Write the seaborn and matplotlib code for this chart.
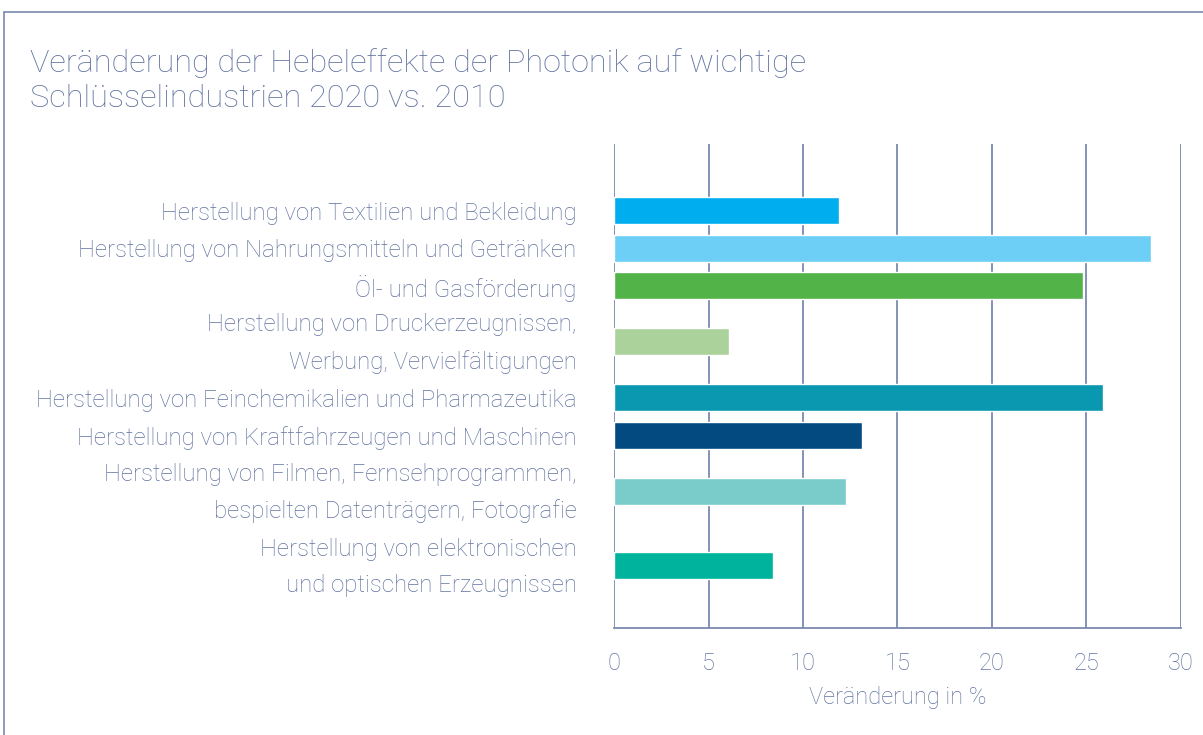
import numpy as np
import pandas as pd
import seaborn as sns
from matplotlib import pyplot as plt
from matplotlib.lines import Line2D
from matplotlib.transforms import ScaledTranslation

# data
labels = [
    "Herstellung von Textilien und Bekleidung",
    "Herstellung von Nahrungsmitteln und Getränken",
    "Öl- und Gasförderung",
    "Herstellung von Druckerzeugnissen,\nWerbung, Vervielfältigungen",
    "Herstellung von Feinchemikalien und Pharmazeutika",
    "Herstellung von Kraftfahrzeugen und Maschinen",
    "Herstellung von Filmen, Fernsehprogrammen,\nbespielten Datenträgern, Fotografie",
    "Herstellung von elektronischen\nund optischen Erzeugnissen",
]
values = [11.9, 28.4, 24.8, 6.1, 25.9, 13.1, 12.3, 8.4]
colors = ["#00AEEF", "#6DCFF6", "#52B348", "#ABD29A",
          "#0A98B0", "#024A7F", "#7ACCCB", "#00B39C"]
x_ticks = [0, 5, 10, 15, 20, 25, 30]

txt = "#6273A0"
grid = "#7A8AB0"

sns.set_style("white")
plt.rcParams["font.family"] = ["Roboto", "DejaVu Sans"]
plt.rcParams["font.weight"] = "light"

# rows are spaced by how many text lines each label has
n_lines = np.array([lab.count("\n") + 1 for lab in labels])
pos = np.concatenate([[0], np.cumsum((n_lines[:-1] + n_lines[1:]) / 2)])

df = pd.DataFrame({"label": labels, "value": values, "pos": pos})

fig = plt.figure(figsize=(12.03, 7.35), dpi=100)
ax = fig.add_axes([0.5104, 0.1456, 0.4713, 0.6585])

sns.barplot(data=df, x="value", y="pos", hue="label", palette=colors,
            orient="h", native_scale=True, dodge=False, width=0.72,
            saturation=1, legend=False, ax=ax)

ax.set_xlim(0, 30)
ax.set_ylim(11.16, -1.79)
ax.set_xticks(x_ticks)
ax.set_xticklabels([str(t) for t in x_ticks], fontsize=17, color=txt, fontweight="light")
ax.set_yticks(pos)
ax.set_yticklabels(labels, fontsize=17.3, color=txt, linespacing=1.74, fontweight="light")
ax.tick_params(axis="both", length=0)
ax.tick_params(axis="x", pad=17)
ax.tick_params(axis="y", pad=27)
ax.set_ylabel("")
ax.set_xlabel("Veränderung in %", fontsize=17, color=txt, labelpad=8, fontweight="light")

# two-line labels sit a little low, nudge them up
for lab in ax.get_yticklabels():
    if "\n" in lab.get_text():
        lab.set_transform(lab.get_transform() + ScaledTranslation(0, 5.5 / 72, fig.dpi_scale_trans))

for t in x_ticks:
    ax.axvline(t, color=grid, lw=1.3, zorder=0)
for s in ["top", "right", "left"]:
    ax.spines[s].set_visible(False)
ax.spines["bottom"].set_color(grid)
ax.spines["bottom"].set_linewidth(1.3)

fig.text(0.025, 0.935, "Veränderung der Hebeleffekte der Photonik auf wichtige\nSchlüsselindustrien 2020 vs. 2010",
         fontsize=23.4, color=txt, va="top", ha="left", linespacing=1.29, fontweight="light")

# frame lines at top and left
fig.add_artist(Line2D([0.0035, 1.0], [0.983, 0.983], color=grid, lw=1.2))
fig.add_artist(Line2D([0.0035, 0.0035], [0.0, 0.983], color=grid, lw=1.2))

fig.savefig("out.png", dpi=100)
